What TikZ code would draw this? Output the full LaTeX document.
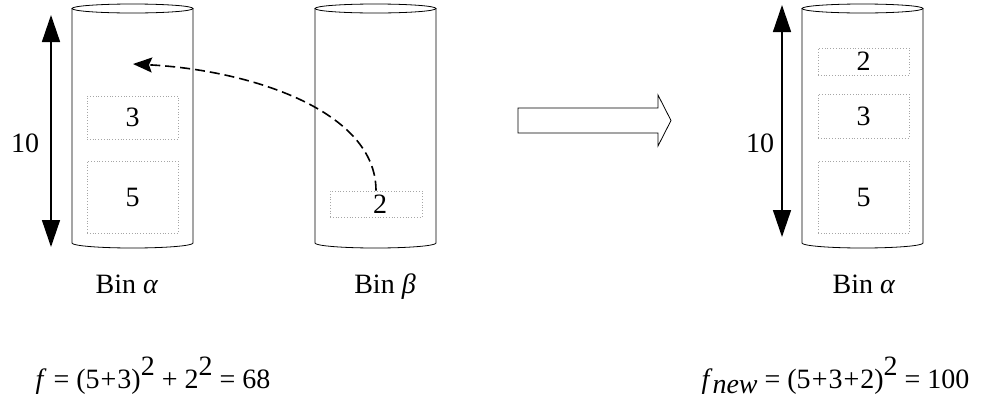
\documentclass[tikz,border=0pt]{standalone}
\usepackage{fontspec}
\setmainfont{Liberation Serif}
\usetikzlibrary{arrows.meta,positioning,calc}
\newcommand{\sqr}{\raisebox{0.45em}{2}}
\newcommand{\pl}{\kern1pt+\kern1pt}

\begin{document}
\begin{tikzpicture}[
  x=1pt,y=-1pt,
  every node/.style={font=\fontsize{28}{32}\selectfont},
  binline/.style={draw=black,line width=0.8pt},
  blk/.style={draw=gray!70,dotted,line width=0.8pt,inner sep=0pt},
  dim/.style={{Triangle[length=27pt,width=18pt]}-{Triangle[length=27pt,width=18pt]},line width=1.5pt},
  move/.style={-{Stealth[length=19pt,width=15pt,inset=3pt]},dashed,dash pattern=on 10pt off 5pt,line width=1.6pt},
  hollow/.style={draw=black,fill=white,line width=0.8pt}
]
\useasboundingbox (0,0) rectangle (983,400);
% the three bins
\foreach \xl in {72,315,802}{
  \draw[binline] (\xl,8.5) -- (\xl,243)
    arc[start angle=180,end angle=0,x radius=60.5,y radius=5] -- (\xl+121,8.5);
  \draw[binline] (\xl+60.5,8.5) ellipse[x radius=60.5,y radius=4.5];
}
% items before the move
\node[blk,minimum width=91pt,minimum height=43pt] (a3) at (132.5,117.5) {3};
\node[blk,minimum width=91pt,minimum height=72pt] (a5) at (132.5,197) {5};
\node[blk,minimum width=92pt,minimum height=26pt] (b2) at (376,204) {\hspace*{8pt}2};
% items after the move
\node[blk,minimum width=91pt,minimum height=27pt] (c2) at (863.5,61.5) {2};
\node[blk,minimum width=91pt,minimum height=44pt] (c3) at (863.5,116) {3};
\node[blk,minimum width=91pt,minimum height=72pt] (c5) at (863.5,197) {5};
% capacity arrows
\coordinate (capat) at (51,15);
\coordinate (capab) at (51,247);
\coordinate (capct) at (782,5);
\coordinate (capcb) at (782,237);
\draw[dim] (capat) -- (capab);
\draw[dim] (capct) -- (capcb);
\node (cap1) at (25,143) {10};
\node (cap2) at (760,143) {10};
% moving item 2
\coordinate (tgt) at (133,64);
\draw[move] (b2.north) .. controls +(0,-80) and (250,70) .. (tgt);
% transition
\draw[hollow] (518,108) -- (658,108) -- (658,95) -- (671,120.5) -- (658,146)
  -- (658,133) -- (518,133) -- cycle;
% labels
\node[anchor=base] (lalpha) at (127,293) {Bin \textit{α}};
\node[anchor=base] (lbeta) at (385,293) {Bin \textit{β}};
\node[anchor=base] (lalpha2) at (864,293) {Bin \textit{α}};
\node[anchor=base west] (fold) at (32,388)
  {\textit{f} = (5\pl3)\sqr{} + 2\sqr{} = 68};
\node[anchor=base east] (fnew) at (973,388)
  {\textit{f}\raisebox{-0.18em}{\textit{new}} = (5\pl3\pl2)\sqr{} = 100};
\end{tikzpicture}
\end{document}
